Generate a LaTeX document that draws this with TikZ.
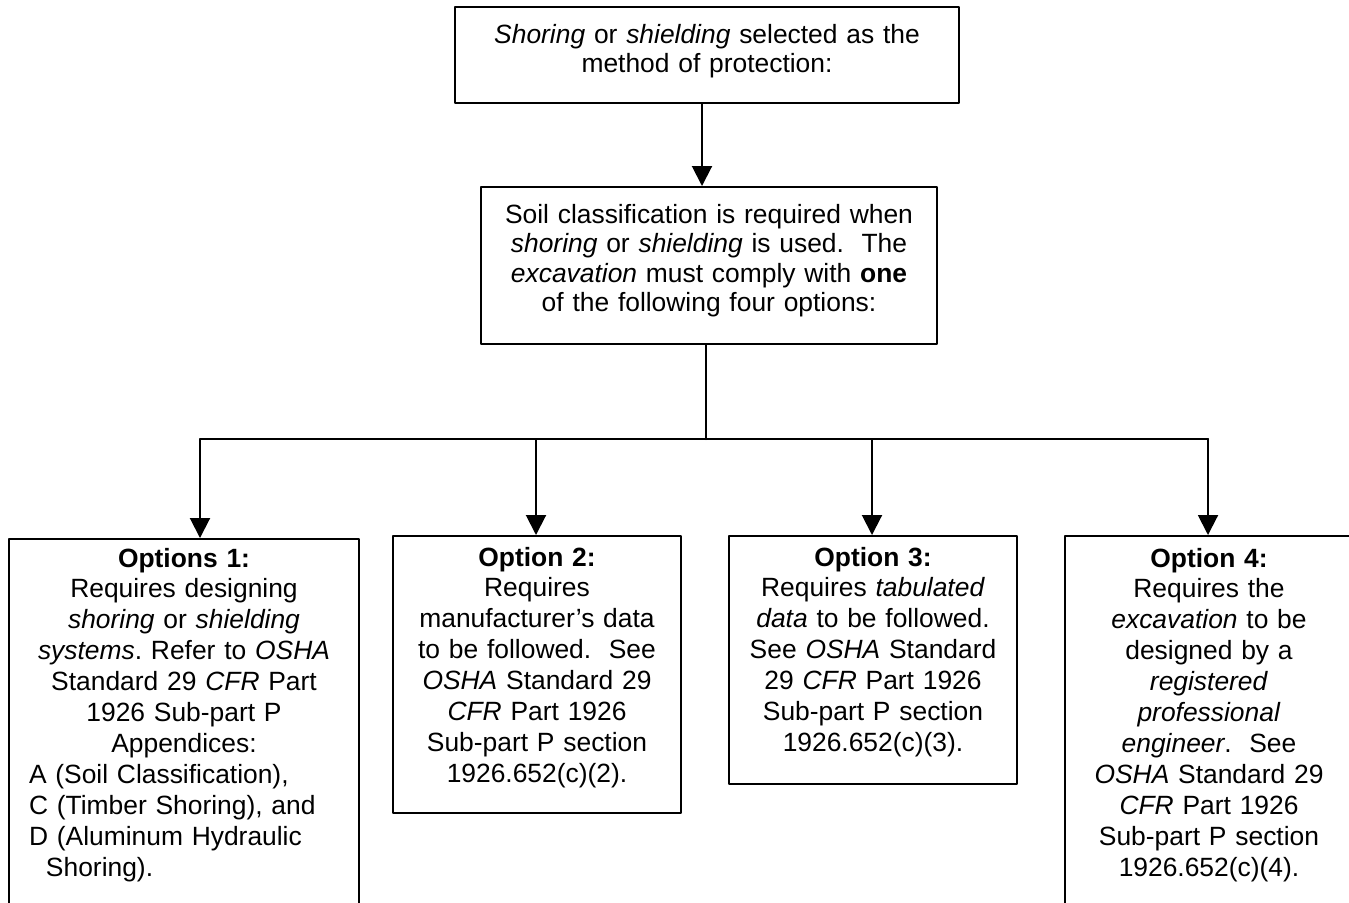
\documentclass[tikz,border=0pt]{standalone}
\usepackage{fontspec}
\setmainfont{Liberation Sans}
\usepackage{tikz}
\usetikzlibrary{arrows.meta}
\frenchspacing

\begin{document}
\begin{tikzpicture}[line cap=round,line join=round,>={Triangle[width=10pt,length=10pt]},x=0.5pt,y=-0.5pt,
    box/.style={draw,line width=1pt,anchor=north west,inner xsep=0pt,inner ysep=0pt,align=center},
    upbox/.style={box,font=\fontsize{13.2}{14.8}\selectfont},
    optbox/.style={box,font=\fontsize{13.2}{15.45}\selectfont}]
    \useasboundingbox (0,0) rectangle (1349,902);
    \clip (0,0) rectangle (1349,902);
    \node[upbox,text width=252pt,text height=18pt,text depth=30pt] (sel) at (454,6)
        {\textit{Shoring} or \textit{shielding} selected as the\\ method of protection:};
    \node[upbox,text width=228pt,text height=18pt,text depth=60.5pt] (soil) at (480,186)
        {Soil classification is required when\\ \textit{shoring} or \textit{shielding} is used.\ \ The\\
         \textit{excavation} must comply with \textbf{one}\\ of the following four options:};
    \node[optbox,text width=175pt,text height=14pt,text depth=177pt] (opt1) at (8,538)
        {\textbf{Options 1:}\\ Requires designing\\ \textit{shoring} or \textit{shielding}\\
         \textit{systems}. Refer to \textit{OSHA}\\ Standard 29 \textit{CFR} Part\\ 1926 Sub-part P\\ Appendices:\\
         \makebox[175pt][l]{\hspace{10pt}A (Soil Classification),}\\
         \makebox[175pt][l]{\hspace{10pt}C (Timber Shoring), and}\\
         \makebox[175pt][l]{\hspace{10pt}D (Aluminum Hydraulic}\\
         \makebox[175pt][l]{\hspace{18.5pt}Shoring).}};
    \node[optbox,text width=144pt,text height=15pt,text depth=123.5pt] (opt2) at (392,535)
        {\textbf{Option 2:}\\ Requires\\ manufacturer's data\\ to be followed.\ \ See\\
         \textit{OSHA} Standard 29\\ \textit{CFR} Part 1926\\ Sub-part P section\\ 1926.652(c)(2).};
    \node[optbox,text width=144pt,text height=15pt,text depth=109pt] (opt3) at (728,535)
        {\textbf{Option 3:}\\ Requires \textit{tabulated}\\ \textit{data} to be followed.\\
         See \textit{OSHA} Standard\\ 29 \textit{CFR} Part 1926\\ Sub-part P section\\ 1926.652(c)(3).};
    \node[optbox,text width=144pt,text height=15.5pt,text depth=177pt] (opt4) at (1064,535)
        {\textbf{Option 4:}\\ Requires the\\ \textit{excavation} to be\\ designed by a\\ \textit{registered}\\
         \textit{professional}\\ \textit{engineer}.\ \ See\\ \textit{OSHA} Standard 29\\ \textit{CFR} Part 1926\\
         Sub-part P section\\ 1926.652(c)(4).};
    % joints of the connectors
    \coordinate (j0) at (702,0);
    \coordinate (hub) at (706,439);
    \coordinate (j1) at (200,439);
    \coordinate (j2) at (536,439);
    \coordinate (j3) at (872,439);
    \coordinate (j4) at (1208,439);
    \draw [line width=1pt,->] (sel.south -| j0) -- (soil.north -| j0);
    \draw [line width=1pt] (soil.south -| hub) -- (hub);
    \draw [line width=1pt] (j1) -- (j4);
    \foreach \j/\o in {j1/opt1,j2/opt2,j3/opt3,j4/opt4}
        \draw [line width=1pt,->] (\j) -- (\j |- \o.north);
\end{tikzpicture}
\end{document}
